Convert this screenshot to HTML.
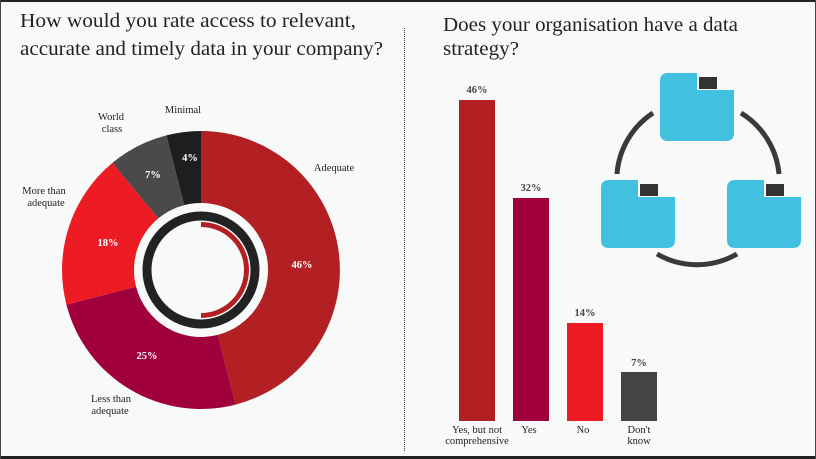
<!DOCTYPE html>
<html><head><meta charset="utf-8"><style>
html,body{margin:0;padding:0;background:#f8f9f9;}
body{width:816px;height:459px;overflow:hidden;position:relative;font-family:"Liberation Serif",serif;}
</style></head><body>
<svg width="816" height="459" viewBox="0 0 816 459" xmlns="http://www.w3.org/2000/svg" style="position:absolute;left:0;top:0">
<rect x="0" y="0" width="816" height="459" fill="#f8f9f9"/>
<rect x="0" y="0" width="816" height="2" fill="#222"/>
<rect x="0" y="456" width="816" height="3" fill="#222"/>
<rect x="0" y="0" width="1" height="459" fill="#444"/>
<rect x="815" y="0" width="1" height="459" fill="#444"/>
<line x1="404.5" y1="28" x2="404.5" y2="452" stroke="#444" stroke-width="1" stroke-dasharray="1,1"/>
<g font-family="Liberation Serif, serif" font-size="20" fill="#222">
<text x="20" y="27" textLength="336" lengthAdjust="spacingAndGlyphs">How would you rate access to relevant,</text>
<text x="20" y="55" textLength="363" lengthAdjust="spacingAndGlyphs">accurate and timely data in your company?</text>
<text x="443" y="31" textLength="295" lengthAdjust="spacingAndGlyphs">Does your organisation have a data</text>
<text x="443" y="55" textLength="76" lengthAdjust="spacingAndGlyphs">strategy?</text>
</g>
<!-- donut -->
<path d="M201,131 A139,139 0 0 1 235.6,404.6 L217.7,334.9 A67,67 0 0 0 201,203 Z" fill="#b22024"/>
<path d="M235.6,404.6 A139,139 0 0 1 66.4,304.6 L136.1,286.7 A67,67 0 0 0 217.7,334.9 Z" fill="#a0003c"/>
<path d="M66.4,304.6 A139,139 0 0 1 112.4,162.9 L158.3,218.4 A67,67 0 0 0 136.1,286.7 Z" fill="#ed1c24"/>
<path d="M112.4,162.9 A139,139 0 0 1 166.4,135.4 L184.3,205.1 A67,67 0 0 0 158.3,218.4 Z" fill="#4a4a4a"/>
<path d="M166.4,135.4 A139,139 0 0 1 201,131 L201,203 A67,67 0 0 0 184.3,205.1 Z" fill="#1e1e1e"/>
<circle cx="201" cy="270" r="54" fill="none" stroke="#222" stroke-width="9"/>
<path d="M201,224.5 A45.5,45.5 0 0 1 201,315.5" fill="none" stroke="#b22024" stroke-width="5"/>
<g font-family="Liberation Serif, serif" font-size="10.5" fill="#222" text-anchor="middle">
<text x="183" y="113">Minimal</text>
<text x="111" y="120">World</text><text x="112" y="132">class</text>
<text x="334" y="171">Adequate</text>
<text x="44" y="194">More than</text><text x="46" y="206">adequate</text>
<text x="111" y="402">Less than</text><text x="110" y="414">adequate</text>
</g>
<g font-family="Liberation Serif, serif" font-size="10.5" font-weight="bold" fill="#fff" text-anchor="middle">
<text x="190" y="161">4%</text>
<text x="153" y="178">7%</text>
<text x="108" y="246">18%</text>
<text x="302" y="268">46%</text>
<text x="147" y="359">25%</text>
</g>
<!-- bars -->
<rect x="459" y="100" width="36" height="321" fill="#b22024"/>
<rect x="513" y="198" width="36" height="223" fill="#a0003c"/>
<rect x="567" y="323" width="36" height="98" fill="#ed1c24"/>
<rect x="621" y="372" width="36" height="49" fill="#444"/>
<g font-family="Liberation Serif, serif" font-size="10.5" font-weight="bold" fill="#444" text-anchor="middle">
<text x="477" y="93">46%</text>
<text x="531" y="191">32%</text>
<text x="585" y="316">14%</text>
<text x="639" y="366">7%</text>
</g>
<g font-family="Liberation Serif, serif" font-size="10.5" fill="#222" text-anchor="middle">
<text x="477" y="433">Yes, but not</text><text x="477" y="444">comprehensive</text>
<text x="529" y="433">Yes</text>
<text x="583" y="433">No</text>
<text x="639" y="433">Don't</text><text x="639" y="444">know</text>
</g>
<!-- icon -->
<g fill="none" stroke="#3a3a3a" stroke-width="5">
<path d="M653,113 A80,80 0 0 0 617,174"/>
<path d="M741,113 A80,80 0 0 1 779,174"/>
<path d="M657,254 A80,80 0 0 0 737,254"/>
</g>
<g>
<path d="M668,73 H697 V90 H734 V133 Q734,141 726,141 H668 Q660,141 660,133 V81 Q660,73 668,73 Z" fill="#42c0e0"/>
<rect x="699" y="77" width="18" height="12" fill="#333"/>
</g>
<g transform="translate(-59,107)">
<path d="M668,73 H697 V90 H734 V133 Q734,141 726,141 H668 Q660,141 660,133 V81 Q660,73 668,73 Z" fill="#42c0e0"/>
<rect x="699" y="77" width="18" height="12" fill="#333"/>
</g>
<g transform="translate(67,107)">
<path d="M668,73 H697 V90 H734 V133 Q734,141 726,141 H668 Q660,141 660,133 V81 Q660,73 668,73 Z" fill="#42c0e0"/>
<rect x="699" y="77" width="18" height="12" fill="#333"/>
</g>
</svg>
</body></html>
